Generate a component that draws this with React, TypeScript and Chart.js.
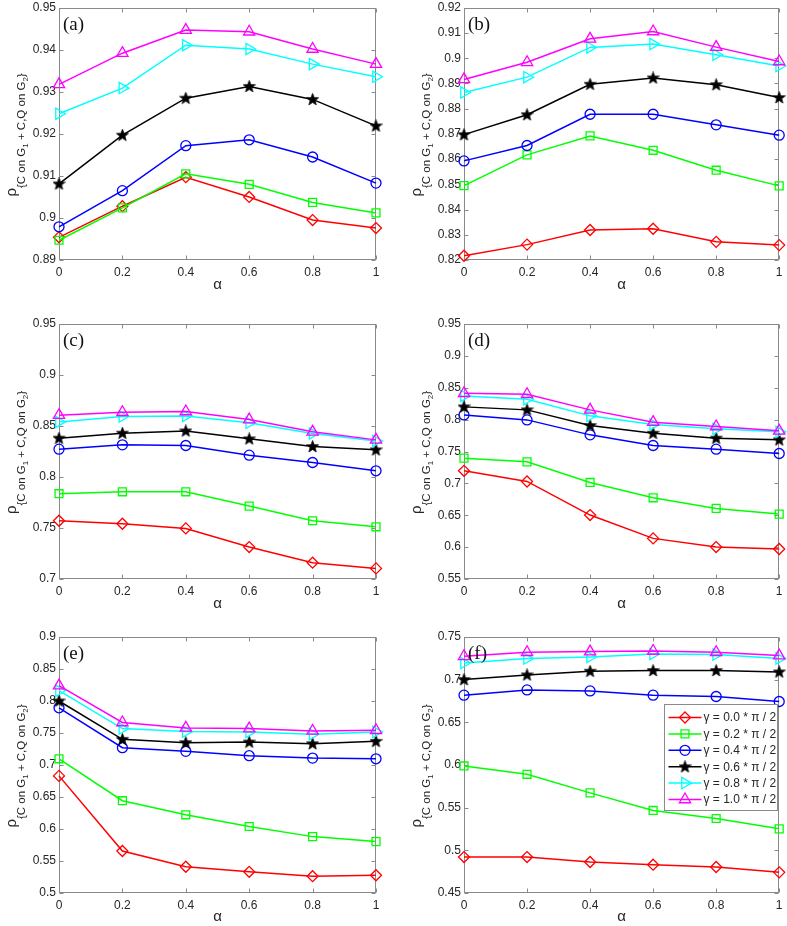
import React, { useEffect, useRef } from 'react';
import { Chart, registerables } from 'chart.js';
import { drawPoint } from 'chart.js/helpers';

Chart.register(...registerables);

// ---------- data ----------
const alphaValues = [0, 0.2, 0.4, 0.6, 0.8, 1];
const xTickValues = [0, 0.2, 0.4, 0.6, 0.8, 1];
const gammaLabels = [
  'γ = 0.0 * π / 2',
  'γ = 0.2 * π / 2',
  'γ = 0.4 * π / 2',
  'γ = 0.6 * π / 2',
  'γ = 0.8 * π / 2',
  'γ = 1.0 * π / 2',
];
const panelLetters = ['(a)', '(b)', '(c)', '(d)', '(e)', '(f)'];

// panel (a)
const aG00 = [0.8954, 0.9028, 0.9097, 0.905, 0.8995, 0.8976];
const aG02 = [0.8947, 0.9024, 0.9105, 0.908, 0.9037, 0.9012];
const aG04 = [0.8979, 0.9065, 0.9172, 0.9186, 0.9145, 0.9083];
const aG06 = [0.9081, 0.9197, 0.9285, 0.9313, 0.9282, 0.9219];
const aG08 = [0.9248, 0.9309, 0.9411, 0.9402, 0.9366, 0.9336];
const aG10 = [0.9318, 0.9392, 0.9447, 0.9443, 0.9402, 0.9366];
const aYTicks = [0.89, 0.9, 0.91, 0.92, 0.93, 0.94, 0.95];

// panel (b)
const bG00 = [0.8217, 0.8261, 0.8319, 0.8324, 0.8272, 0.8259];
const bG02 = [0.8495, 0.8617, 0.8692, 0.8635, 0.8556, 0.8494];
const bG04 = [0.8593, 0.8654, 0.8778, 0.8778, 0.8736, 0.8695];
const bG06 = [0.8697, 0.8776, 0.8897, 0.8922, 0.8895, 0.8844];
const bG08 = [0.8864, 0.8925, 0.9043, 0.9056, 0.9014, 0.8969];
const bG10 = [0.8916, 0.8984, 0.9077, 0.9106, 0.9044, 0.8987];
const bYTicks = [0.82, 0.83, 0.84, 0.85, 0.86, 0.87, 0.88, 0.89, 0.9, 0.91, 0.92];

// panel (c)
const cG00 = [0.7571, 0.7542, 0.7496, 0.7313, 0.716, 0.7104];
const cG02 = [0.7836, 0.7855, 0.7855, 0.7715, 0.7571, 0.7512];
const cG04 = [0.8273, 0.8315, 0.8309, 0.8214, 0.8142, 0.8061];
const cG06 = [0.8381, 0.843, 0.8452, 0.8374, 0.8299, 0.8266];
const cG08 = [0.854, 0.8593, 0.8599, 0.8531, 0.8426, 0.8354];
const cG10 = [0.8606, 0.8635, 0.8642, 0.8563, 0.8443, 0.8364];
const cYTicks = [0.7, 0.75, 0.8, 0.85, 0.9, 0.95];

// panel (d)
const dG00 = [0.7197, 0.703, 0.6503, 0.6137, 0.6001, 0.597];
const dG02 = [0.7396, 0.7338, 0.7014, 0.6774, 0.6607, 0.6518];
const dG04 = [0.8074, 0.7996, 0.7761, 0.7594, 0.7537, 0.7469];
const dG06 = [0.82, 0.8153, 0.7907, 0.7787, 0.7709, 0.7683];
const dG08 = [0.8372, 0.832, 0.8059, 0.7923, 0.7855, 0.7808];
const dG10 = [0.8414, 0.8398, 0.8153, 0.796, 0.7892, 0.7824];
const dYTicks = [0.55, 0.6, 0.65, 0.7, 0.75, 0.8, 0.85, 0.9, 0.95];

// panel (e)
const eG00 = [0.683, 0.5656, 0.541, 0.5331, 0.5263, 0.5278];
const eG02 = [0.7097, 0.6442, 0.6222, 0.6039, 0.5881, 0.5803];
const eG04 = [0.7894, 0.727, 0.7213, 0.7145, 0.7108, 0.7097];
const eG06 = [0.8, 0.7401, 0.7349, 0.7359, 0.7333, 0.737];
const eG08 = [0.8161, 0.7569, 0.7522, 0.7517, 0.748, 0.7517];
const eG10 = [0.824, 0.7664, 0.758, 0.7569, 0.7532, 0.7543];
const eYTicks = [0.5, 0.55, 0.6, 0.65, 0.7, 0.75, 0.8, 0.85, 0.9];

// panel (f)
const fG00 = [0.4921, 0.4921, 0.4863, 0.4832, 0.4805, 0.4742];
const fG02 = [0.5989, 0.5891, 0.5673, 0.5467, 0.5373, 0.5252];
const fG04 = [0.6818, 0.688, 0.6868, 0.6818, 0.6803, 0.6744];
const fG06 = [0.7001, 0.7056, 0.7099, 0.7107, 0.7107, 0.7091];
const fG08 = [0.7196, 0.7247, 0.7266, 0.7301, 0.7294, 0.7247];
const fG10 = [0.7274, 0.7321, 0.7329, 0.7336, 0.7321, 0.7282];
const fYTicks = [0.45, 0.5, 0.55, 0.6, 0.65, 0.7, 0.75];

// ---------- styles ----------
const seriesColors = ['#ff0000', '#00ff00', '#0000ff', '#000000', '#00ffff', '#ff00ff'];
const SANS = '"Liberation Sans", Arial, Helvetica, sans-serif';
const SERIF = '"Liberation Serif", "Times New Roman", serif';
const TEXT = '#262626';
const AXIS = '#8a8a8a';

function makeStar(): HTMLCanvasElement {
  const c = document.createElement('canvas');
  c.width = 13;
  c.height = 13;
  const g = c.getContext('2d')!;
  const cx = 6.5, cy = 6.8, R = 6.3, r = 2.6;
  g.beginPath();
  for (let i = 0; i < 10; i++) {
    const rad = i % 2 === 0 ? R : r;
    const ang = -Math.PI / 2 + (i * Math.PI) / 5;
    const px = cx + rad * Math.cos(ang);
    const py = cy + rad * Math.sin(ang);
    if (i === 0) g.moveTo(px, py);
    else g.lineTo(px, py);
  }
  g.closePath();
  g.fillStyle = '#000';
  g.fill();
  g.strokeStyle = '#000';
  g.lineWidth = 0.8;
  g.stroke();
  return c;
}

type Marker = { style: any; radius: number; rotation: number };
function markerFor(i: number, star: HTMLCanvasElement): Marker {
  switch (i) {
    case 0: return { style: 'rectRot', radius: 5.5, rotation: 0 };
    case 1: return { style: 'rect', radius: 5.6, rotation: 0 };
    case 2: return { style: 'circle', radius: 5, rotation: 0 };
    case 3: return { style: star, radius: 6, rotation: 0 };
    case 4: return { style: 'triangle', radius: 6.5, rotation: 90 };
    default: return { style: 'triangle', radius: 6.5, rotation: 0 };
  }
}

type PanelCfg = {
  letter: string;
  series: number[][];
  yTicks: number[];
  x: number; y: number; w: number; h: number;
  left: number; right: number; top: number; bottom: number;
  legend: boolean;
};

const cols = [
  { x: 0, w: 390, left: 59, right: 376 },
  { x: 390, w: 397, left: 74, right: 391 },
];
const rows = [
  { y: 0, h: 310, top: 6, bottom: 260 },
  { y: 310, h: 310, top: 14, bottom: 269 },
  { y: 620, h: 306, top: 17, bottom: 273 },
];

const panelSeries = [
  [aG00, aG02, aG04, aG06, aG08, aG10],
  [bG00, bG02, bG04, bG06, bG08, bG10],
  [cG00, cG02, cG04, cG06, cG08, cG10],
  [dG00, dG02, dG04, dG06, dG08, dG10],
  [eG00, eG02, eG04, eG06, eG08, eG10],
  [fG00, fG02, fG04, fG06, fG08, fG10],
];
const panelYTicks = [aYTicks, bYTicks, cYTicks, dYTicks, eYTicks, fYTicks];

const panels: PanelCfg[] = panelLetters.map((letter, i) => {
  const c = cols[i % 2];
  const r = rows[Math.floor(i / 2)];
  return {
    letter,
    series: panelSeries[i],
    yTicks: panelYTicks[i],
    x: c.x, w: c.w, left: c.left, right: c.right,
    y: r.y, h: r.h, top: r.top, bottom: r.bottom,
    legend: i === 5,
  };
});

const fmt = (v: number) => String(+Number(v).toFixed(4));

function drawYLabel(ctx: CanvasRenderingContext2D, baseX: number, cy: number) {
  const segs = [
    { t: 'ρ', size: 15, off: 0 },
    { t: '{C on G', size: 11.5, off: 9 },
    { t: '1', size: 8, off: 12.5 },
    { t: ' + C,Q on G', size: 11.5, off: 9 },
    { t: '2', size: 8, off: 12.5 },
    { t: '}', size: 11.5, off: 9 },
  ];
  ctx.save();
  let total = 0;
  const widths = segs.map((s) => {
    ctx.font = `${s.size}px ${SANS}`;
    const w = ctx.measureText(s.t).width;
    total += w;
    return w;
  });
  ctx.translate(baseX, cy);
  ctx.rotate(-Math.PI / 2);
  ctx.fillStyle = TEXT;
  ctx.textBaseline = 'alphabetic';
  ctx.textAlign = 'left';
  let pos = -total / 2;
  segs.forEach((s, i) => {
    ctx.font = `${s.size}px ${SANS}`;
    ctx.fillText(s.t, pos, s.off);
    pos += widths[i];
  });
  ctx.restore();
}

function Panel({ cfg }: { cfg: PanelCfg }) {
  const ref = useRef<HTMLCanvasElement>(null);
  useEffect(() => {
    const star = makeStar();
    const markers = cfg.series.map((_, i) => markerFor(i, star));
    const yMin = cfg.yTicks[0];
    const yMax = cfg.yTicks[cfg.yTicks.length - 1];

    const deco = {
      id: 'deco',
      beforeDatasetsDraw(chart: any) {
        const ctx: CanvasRenderingContext2D = chart.ctx;
        const { left, right, top, bottom } = chart.chartArea;
        const L = Math.round(left) + 0.5, R = Math.round(right) - 0.5;
        const T = Math.round(top) + 0.5, B = Math.round(bottom) - 0.5;
        ctx.save();
        ctx.fillStyle = '#ffffff';
        ctx.fillRect(L, T, R - L, B - T);
        ctx.strokeStyle = AXIS;
        ctx.lineWidth = 1;
        ctx.strokeRect(L, T, R - L, B - T);
        const tl = 4;
        ctx.beginPath();
        chart.scales.x.ticks.forEach((t: any) => {
          const px = Math.round(chart.scales.x.getPixelForValue(t.value)) + 0.5;
          ctx.moveTo(px, B); ctx.lineTo(px, B - tl);
          ctx.moveTo(px, T); ctx.lineTo(px, T + tl);
        });
        chart.scales.y.ticks.forEach((t: any) => {
          const py = Math.round(chart.scales.y.getPixelForValue(t.value)) + 0.5;
          ctx.moveTo(L, py); ctx.lineTo(L + tl, py);
          ctx.moveTo(R, py); ctx.lineTo(R - tl, py);
        });
        ctx.stroke();
        ctx.restore();
      },
      afterDatasetsDraw(chart: any) {
        const ctx: CanvasRenderingContext2D = chart.ctx;
        const { left, top, bottom } = chart.chartArea;
        // panel letter
        ctx.save();
        ctx.font = `19px ${SERIF}`;
        ctx.fillStyle = '#111';
        ctx.textBaseline = 'alphabetic';
        ctx.textAlign = 'left';
        ctx.fillText(cfg.letter, left + 4, top + 22);
        ctx.restore();
        // y label
        drawYLabel(ctx, left - 43.5, (top + bottom) / 2 + 1);
        // legend
        if (cfg.legend) {
          const bx = 274.5, by = 84.5, bw = 113, bh = 106;
          ctx.save();
          ctx.fillStyle = '#ffffff';
          ctx.fillRect(bx, by, bw, bh);
          ctx.strokeStyle = AXIS;
          ctx.lineWidth = 1;
          ctx.strokeRect(bx, by, bw, bh);
          chart.data.datasets.forEach((ds: any, i: number) => {
            const yy = by + 13 + i * 16.4;
            ctx.strokeStyle = ds.borderColor;
            ctx.lineWidth = 1.5;
            ctx.beginPath();
            ctx.moveTo(bx + 4, yy);
            ctx.lineTo(bx + 37, yy);
            ctx.stroke();
            const m = markers[i];
            ctx.fillStyle = 'rgba(0,0,0,0)';
            ctx.lineWidth = 1.3;
            drawPoint(ctx, { pointStyle: m.style, rotation: m.rotation, radius: m.radius, borderWidth: 1.3 } as any, bx + 20.5, yy);
            ctx.fillStyle = TEXT;
            ctx.font = `12px ${SANS}`;
            ctx.textBaseline = 'middle';
            ctx.textAlign = 'left';
            ctx.fillText(ds.label, bx + 39, yy + 0.5);
          });
          ctx.restore();
        }
      },
    };

    const titleFont = 15;
    const titleLH = titleFont * 1.2;
    const chart = new Chart(ref.current!, {
      type: 'line',
      data: {
        datasets: cfg.series.map((vals, i) => ({
          label: gammaLabels[i],
          data: alphaValues.map((a, k) => ({ x: a, y: vals[k] })),
          borderColor: seriesColors[i],
          backgroundColor: 'rgba(0,0,0,0)',
          borderWidth: 1.5,
          pointStyle: markers[i].style,
          pointRadius: markers[i].radius,
          pointRotation: markers[i].rotation,
          pointBorderWidth: 1.3,
          pointBorderColor: seriesColors[i],
          pointBackgroundColor: 'rgba(0,0,0,0)',
          tension: 0,
          fill: false,
          clip: false as any,
          order: 6 - i,
        })),
      },
      options: {
        animation: false,
        responsive: false,
        devicePixelRatio: 1,
        events: [],
        layout: { padding: { left: 0, top: cfg.top, right: cfg.w - cfg.right, bottom: 0 } },
        plugins: { legend: { display: false }, tooltip: { enabled: false } },
        scales: {
          x: {
            type: 'linear',
            min: 0,
            max: 1,
            position: 'bottom',
            afterBuildTicks: (s: any) => { s.ticks = xTickValues.map((v) => ({ value: v })); },
            afterFit: (s: any) => {
              s.height = cfg.h - cfg.bottom;
              s.paddingLeft = 0; s.paddingRight = 0;
            },
            grid: { display: false, drawTicks: false },
            border: { display: false },
            ticks: {
              padding: 5,
              maxRotation: 0,
              autoSkip: false,
              color: TEXT,
              font: { family: SANS, size: 12 },
              callback: (v: any) => fmt(v),
            },
            title: {
              display: true,
              text: 'α',
              color: TEXT,
              font: { family: SANS, size: titleFont },
              padding: { top: 0, bottom: Math.max(0, cfg.h - (cfg.bottom + 25) - titleLH / 2) },
            },
          },
          y: {
            type: 'linear',
            min: yMin,
            max: yMax,
            afterBuildTicks: (s: any) => { s.ticks = cfg.yTicks.map((v) => ({ value: v })); },
            afterFit: (s: any) => {
              s.width = cfg.left;
              s.paddingTop = 0; s.paddingBottom = 0;
            },
            grid: { display: false, drawTicks: false },
            border: { display: false },
            ticks: {
              padding: 3,
              autoSkip: false,
              color: TEXT,
              font: { family: SANS, size: 12 },
              callback: (v: any) => fmt(v),
            },
          },
        },
      },
      plugins: [deco],
    } as any);
    return () => chart.destroy();
  }, [cfg]);
  return (
    <canvas
      ref={ref}
      width={cfg.w}
      height={cfg.h}
      style={{ position: 'absolute', left: cfg.x, top: cfg.y, width: cfg.w, height: cfg.h }}
    />
  );
}

export default function App() {
  return (
    <div style={{ position: 'absolute', left: 0, top: 0, width: 787, height: 926, background: '#ffffff' }}>
      {panels.map((p) => (
        <Panel key={p.letter} cfg={p} />
      ))}
    </div>
  );
}
